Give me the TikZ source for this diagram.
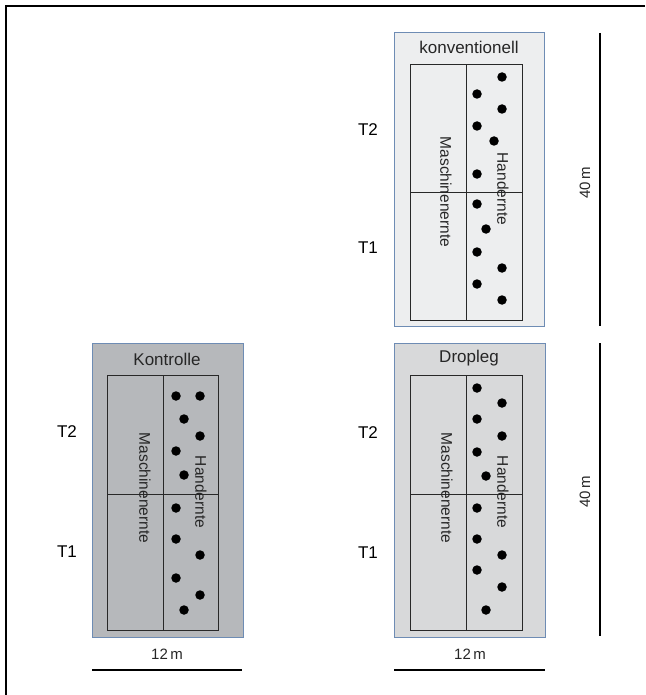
\documentclass[tikz,border=0pt]{standalone}
\usepackage{fontspec}
\setmainfont{Liberation Sans}
\definecolor{bordc}{RGB}{110,140,180}
\definecolor{fillK}{RGB}{182,184,187}
\definecolor{fillD}{RGB}{216,217,218}
\definecolor{fillC}{RGB}{237,238,239}
\definecolor{linec}{RGB}{40,40,40}
\tikzset{
  plotbox/.style={draw=bordc, line width=1pt},
  innerbox/.style={draw=linec, line width=1pt},
  dotmark/.style={circle, fill=black, inner sep=0pt, minimum size=9.5pt},
  ttl/.style={font=\fontsize{17}{20}\selectfont, inner sep=0pt, text=black!85},
  lbl/.style={font=\fontsize{15.5}{18}\selectfont, inner sep=0pt, text=black!85},
  tlbl/.style={font=\fontsize{17}{20}\selectfont, inner sep=0pt},
  scl/.style={font=\fontsize{15}{18}\selectfont, inner sep=0pt, text=black!85},
  bar/.style={line width=2pt},
}
\begin{document}
\begin{tikzpicture}[x=1pt,y=-1pt]
\useasboundingbox (0,0) rectangle (645,695);
\draw[line width=2pt] (6,695) -- (6,6) -- (645,6);

% ---- konventionell ----
\filldraw[plotbox, fill=fillC] (394,33) rectangle (544,326);
\node[ttl] (tC) at (469,47) {konventionell};
\draw[innerbox] (410,65) rectangle (522,320);
\draw[innerbox] (466,65) -- (466,320);
\draw[innerbox] (410,192) -- (522,192);
\node[lbl, rotate=-90] (mC) at (446,192) {Maschinenernte};
\node[lbl, rotate=-90] (hC) at (503,189) {Handernte};
\foreach \x/\y [count=\i] in {502/77,477/94,502/109,477/126,494/141,477/174,477/204,486/229,477/252,502/268,477/284,502/300}
  \node[dotmark] (dC\i) at (\x,\y) {};
\node[tlbl] (t2C) at (368,130) {T2};
\node[tlbl] (t1C) at (368,248) {T1};

% ---- Kontrolle ----
\filldraw[plotbox, fill=fillK] (92,343) rectangle (243,637);
\node[ttl] (tK) at (167,359) {Kontrolle};
\draw[innerbox] (107,375) rectangle (218,630);
\draw[innerbox] (163,375) -- (163,630);
\draw[innerbox] (107,494) -- (218,494);
\node[lbl, rotate=-90] (mK) at (145,488) {Maschinenernte};
\node[lbl, rotate=-90] (hK) at (201,492) {Handernte};
\foreach \x/\y [count=\i] in {176/396,200/396,184/419,200/436,176/451,184/475,176/508,176/539,200/555,176/578,200/595,184/610}
  \node[dotmark] (dK\i) at (\x,\y) {};
\node[tlbl] (t2K) at (67,432) {T2};
\node[tlbl] (t1K) at (67,552) {T1};
\node[scl] (sK) at (167,654) {12\,m};
\coordinate (sKa) at (92,670);
\coordinate (sKb) at (242,670);
\draw[bar] (sKa) -- (sKb);

% ---- Dropleg ----
\filldraw[plotbox, fill=fillD] (394,343) rectangle (545,637);
\node[ttl] (tD) at (469,358) {Dropleg};
\draw[innerbox] (410,375) rectangle (522,630);
\draw[innerbox] (466,375) -- (466,630);
\draw[innerbox] (410,494) -- (522,494);
\node[lbl, rotate=-90] (mD) at (447,488) {Maschinenernte};
\node[lbl, rotate=-90] (hD) at (503,492) {Handernte};
\foreach \x/\y [count=\i] in {477/388,502/403,477/419,502/436,477/452,486/476,477/508,477/539,502/555,477/570,502/587,486/610}
  \node[dotmark] (dD\i) at (\x,\y) {};
\node[tlbl] (t2D) at (368,433) {T2};
\node[tlbl] (t1D) at (368,553) {T1};
\node[scl] (sD) at (470,654) {12\,m};
\coordinate (sDa) at (394,670);
\coordinate (sDb) at (545,670);
\draw[bar] (sDa) -- (sDb);

% ---- 40 m bars ----
\coordinate (b1a) at (600,33);
\coordinate (b1b) at (600,326);
\draw[bar] (b1a) -- (b1b);
\node[scl, rotate=90] (l1) at (585,183) {40\,m};
\coordinate (b2a) at (600,343);
\coordinate (b2b) at (600,636);
\draw[bar] (b2a) -- (b2b);
\node[scl, rotate=90] (l2) at (585,492) {40\,m};
\end{tikzpicture}
\end{document}
